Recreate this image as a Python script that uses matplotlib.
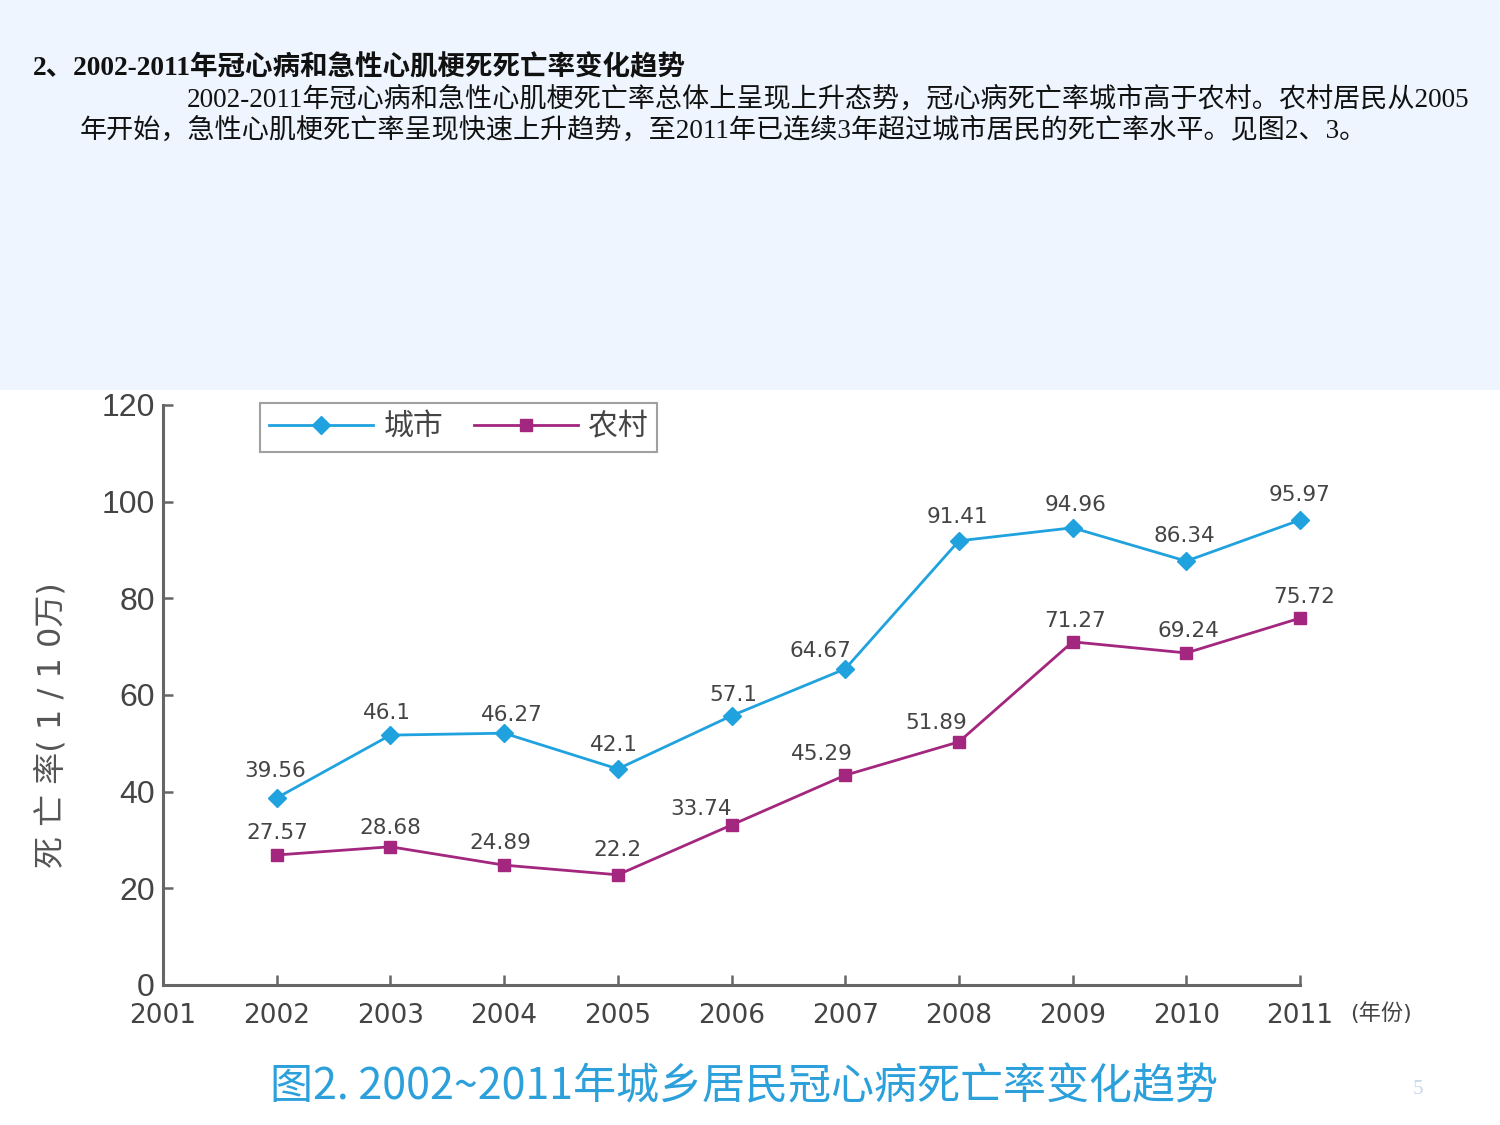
import matplotlib
matplotlib.use('Agg')
import matplotlib.pyplot as plt
from matplotlib.patches import Rectangle

# ---------------- data ----------------
years = [2002, 2003, 2004, 2005, 2006, 2007, 2008, 2009, 2010, 2011]
# plotted positions
urban_values = [38.7, 51.7, 52.1, 44.7, 55.7, 65.4, 91.9, 94.6, 87.7, 96.2]
rural_values = [26.9, 28.6, 24.8, 22.8, 33.1, 43.4, 50.3, 71.0, 68.7, 75.9]
# value labels printed on the chart
urban_labels = ['39.56', '46.1', '46.27', '42.1', '57.1', '64.67', '91.41', '94.96', '86.34', '95.97']
rural_labels = ['27.57', '28.68', '24.89', '22.2', '33.74', '45.29', '51.89', '71.27', '69.24', '75.72']
series_names = ['城市', '农村']
x_ticks = [2001, 2002, 2003, 2004, 2005, 2006, 2007, 2008, 2009, 2010, 2011]
y_ticks = [0, 20, 40, 60, 80, 100, 120]

# label offsets (pixels: dx, dy up)
urban_off = [(-2, 27), (-3, 22), (8, 18), (-4, 24), (2, 21), (-25, 18), (-1, 24), (3, 23), (-2, 25), (0, 25)]
rural_off = [(1, 22), (0, 19), (-4, 22), (0, 25), (-30, 16), (-23, 21), (-23, 19), (3, 21), (2, 22), (4, 21)]

W, H = 1500, 1125
fig = plt.figure(figsize=(15, 11.25), dpi=100)
fig.patch.set_facecolor('white')

def fx(x):
    return x / W

def fy(y):
    return 1 - y / H

# light blue band at top
fig.patches.append(Rectangle((0, fy(390)), 1, 390 / H, transform=fig.transFigure,
                             facecolor='#EEF5FE', edgecolor='none', zorder=0))

serif_cjk = ['Liberation Serif', 'Noto Sans CJK SC']
fig.text(fx(33), fy(68), '2、2002-2011年冠心病和急性心肌梗死死亡率变化趋势',
         family=serif_cjk, fontsize=19.8, fontweight='bold', color='#111111',
         ha='left', va='center')
fig.text(fx(187), fy(100), '2002-2011年冠心病和急性心肌梗死亡率总体上呈现上升态势，冠心病死亡率城市高于农村。农村居民从2005',
         family=serif_cjk, fontsize=19.5, color='#111111', ha='left', va='center')
fig.text(fx(80), fy(131), '年开始，急性心肌梗死亡率呈现快速上升趋势，至2011年已连续3年超过城市居民的死亡率水平。见图2、3。',
         family=serif_cjk, fontsize=19.5, color='#111111', ha='left', va='center')

# ---------------- axes ----------------
ax = fig.add_axes([fx(163), fy(985), (1300 - 163) / W, (985 - 405) / H])
ax.set_facecolor('white')

blue = '#1FA2DE'
purple = '#A3267F'
l1, = ax.plot(years, urban_values, color=blue, lw=2.0, marker='D', ms=9,
              clip_on=False, zorder=3, label=series_names[0])
l2, = ax.plot(years, rural_values, color=purple, lw=2.0, marker='s', ms=8,
              clip_on=False, zorder=3, label=series_names[1])

lab_font = dict(family='DejaVu Sans', fontsize=15.5, color='#444444')
for x, v, t, (dx, dy) in zip(years, urban_values, urban_labels, urban_off):
    ax.annotate(t, (x, v), xytext=(dx, dy), textcoords='offset pixels',
                ha='center', va='center', **lab_font)
for x, v, t, (dx, dy) in zip(years, rural_values, rural_labels, rural_off):
    ax.annotate(t, (x, v), xytext=(dx, dy), textcoords='offset pixels',
                ha='center', va='center', **lab_font)

ax.set_xlim(2001, 2011)
ax.set_ylim(0, 120)
ax.set_xticks(x_ticks)
ax.set_xticklabels([str(t) for t in x_ticks], family='DejaVu Sans', fontsize=19, color='#444444')
ax.set_yticks(y_ticks)
ax.set_yticklabels([str(t) for t in y_ticks], family='Liberation Sans', fontsize=23, color='#444444')
ax.tick_params(axis='both', direction='in', length=7, width=1.8, color='#666666')
ax.tick_params(axis='x', pad=13)
ax.tick_params(axis='y', pad=6)
for s in ['top', 'right']:
    ax.spines[s].set_visible(False)
for s in ['left', 'bottom']:
    ax.spines[s].set_color('#666666')
    ax.spines[s].set_linewidth(2.2)

leg = ax.legend(handles=[l1, l2], ncol=2, loc='upper left',
                bbox_to_anchor=(0.0853, 1.004), frameon=True, fancybox=False,
                prop={'family': ['Noto Sans CJK SC'], 'size': 21.5},
                handlelength=3.5, handletextpad=0.35, columnspacing=1.0,
                borderpad=0.3, borderaxespad=0)
leg.get_frame().set_edgecolor('#888888')
leg.get_frame().set_linewidth(1.5)
for t in leg.get_texts():
    t.set_color('#444444')

fig.text(fx(52), fy(725), '死 亡 率( 1 / 1 0万)', family=['DejaVu Sans', 'Noto Sans CJK SC'],
         fontsize=23, color='#555555', rotation=90, ha='center', va='center')
fig.text(fx(1381), fy(1013), '(年份)', family=['DejaVu Sans', 'Noto Sans CJK SC'],
         fontsize=16, color='#444444', ha='center', va='center')

fig.text(fx(744), fy(1087), '图2. 2002~2011年城乡居民冠心病死亡率变化趋势',
         family=['Noto Sans CJK SC'], fontsize=31, color='#2CA0DA', ha='center', va='center')
fig.text(fx(1418), fy(1090), '5', family='Liberation Serif', fontsize=15, color='#C8D8EA',
         ha='center', va='center')

fig.savefig('out.png', dpi=100)
